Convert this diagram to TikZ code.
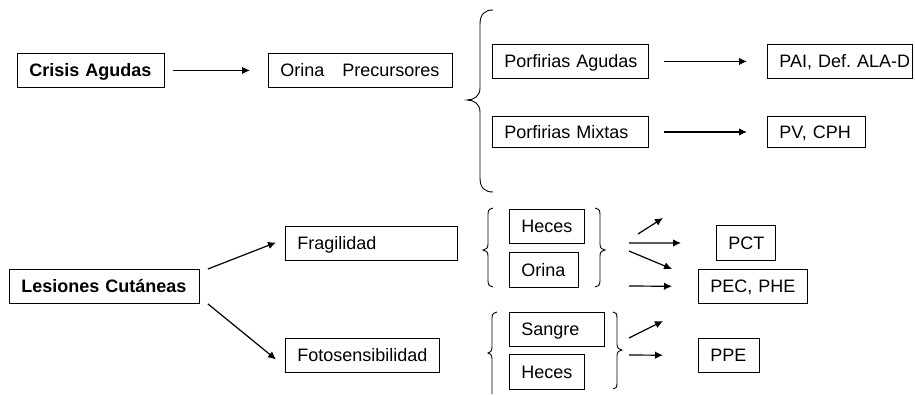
\documentclass[tikz,border=0pt]{standalone}
\usepackage{fontspec}
\setmainfont{Liberation Sans}
\usetikzlibrary{arrows.meta,calc}
\frenchspacing
\begin{document}
\begin{tikzpicture}[x=1pt,y=-1pt,
  box/.style={draw, line width=0.9pt, anchor=north west, inner xsep=0pt, inner ysep=0pt,
    text width=#1, align=left, text height=13pt, text depth=0pt,
    font=\fontsize{18}{21}\selectfont\frenchspacing, execute at begin node={\noindent\hspace*{12pt}}},
  arr/.style={line width=1.2pt, -{Latex[length=8pt,width=7.5pt]}},
  brace/.style={line width=0.9pt},
]
\useasboundingbox (0,0) rectangle (915,394);

% top part
\node[box=147pt, minimum height=34pt] (CA) at (17,53) {\bfseries Crisis Agudas};
\node[box=184pt, minimum height=34pt] (OP) at (268,53) {Orina\hspace{12pt} Precursores};
\node[box=156pt, minimum height=34pt] (PA) at (492,44) {Porfirias Agudas};
\node[box=145pt, minimum height=34pt] (PAI) at (767,44) {\mbox{PAI, Def. ALA-D}};
\node[box=156pt, minimum height=31pt] (PM) at (492,116) {Porfirias Mixtas};
\node[box=98pt, minimum height=31pt] (PV) at (767,116) {PV, CPH};

\draw[arr, shorten <=8pt, shorten >=18pt] (CA.east) -- (OP.west);
\draw[arr, shorten <=15pt, shorten >=20pt] (PA.east) -- (PAI.west);
\draw[arr, shorten <=15pt, shorten >=20pt] (PM.east) -- (PV.west);

\draw[brace] (493,10) .. controls (485,10) and (480,14) .. (480,24) -- (480,88)
  .. controls (480,96) and (474,100) .. (467,100)
  .. controls (474,100) and (480,104) .. (480,112) -- (480,178)
  .. controls (480,188) and (485,192) .. (493,192);

% bottom part
\node[box=190pt, minimum height=34pt] (LC) at (9,269) {\bfseries Lesiones Cut\'aneas};
\node[box=172pt, minimum height=34pt] (Frag) at (285,226) {Fragilidad};
\node[box=154pt, minimum height=34pt] (Foto) at (285,338) {Fotosensibilidad};

\draw[arr] ($(LC.north east)+(8,0)$) -- ($(Frag.west)+(-9,-1)$);
\draw[arr] ($(LC.south east)+(8,0)$) -- ($(Foto.west)+(-9,4)$);

\node[box=75pt, minimum height=34pt] (H1) at (509,209) {Heces};
\node[box=69pt, minimum height=35pt] (O1) at (509,252) {Orina};
\node[box=95pt, minimum height=34pt] (S2) at (509,312) {Sangre};
\node[box=75pt, minimum height=35pt] (H2) at (509,354) {Heces};

\node[box=59pt, minimum height=35pt] (PCT) at (716,225) {PCT};
\node[box=109pt, minimum height=34pt] (PEC) at (698,269) {PEC, PHE};
\node[box=61pt, minimum height=34pt] (PPE) at (698,338) {PPE};

% braces group 1
\draw[brace] (493,208) .. controls (490,208) and (488,210) .. (488,214) -- (488,244)
  .. controls (488,248) and (486,250) .. (483,250)
  .. controls (486,250) and (488,252) .. (488,256) -- (488,281)
  .. controls (488,285) and (490,287) .. (493,287);
\draw[brace] (595,208) .. controls (598,208) and (600,210) .. (600,214) -- (600,244)
  .. controls (600,248) and (602,250) .. (605,250)
  .. controls (602,250) and (600,252) .. (600,256) -- (600,281)
  .. controls (600,285) and (598,287) .. (595,287);
% braces group 2
\draw[brace] (497,312) .. controls (494,312) and (492,314) .. (492,318) -- (492,347)
  .. controls (492,351) and (490,353) .. (488,353)
  .. controls (490,353) and (492,355) .. (492,359) -- (492,394);
\draw[brace] (613,312) .. controls (616,312) and (617,314) .. (617,318) -- (617,344)
  .. controls (617,348) and (619,350) .. (622,350)
  .. controls (619,350) and (617,352) .. (617,356) -- (617,383)
  .. controls (617,387) and (616,389) .. (613,389);

% group arrows
\coordinate (a1s) at (638,234); \coordinate (a1e) at (663,218);
\coordinate (b1s) at (629,243);
\coordinate (c1s) at (629,251); \coordinate (c1e) at (672,269);
\coordinate (d1s) at (629,286);
\coordinate (a2s) at (629,338); \coordinate (a2e) at (663,321);
\coordinate (b2s) at (629,355);

\draw[arr] (a1s) -- (a1e);
\draw[arr, shorten >=35pt] (b1s) -- (PCT.west);
\draw[arr] (c1s) -- (c1e);
\draw[arr, shorten >=26pt] (d1s) -- (PEC.west);
\draw[arr] (a2s) -- (a2e);
\draw[arr, shorten >=35pt] (b2s) -- (PPE.west);
\end{tikzpicture}
\end{document}
